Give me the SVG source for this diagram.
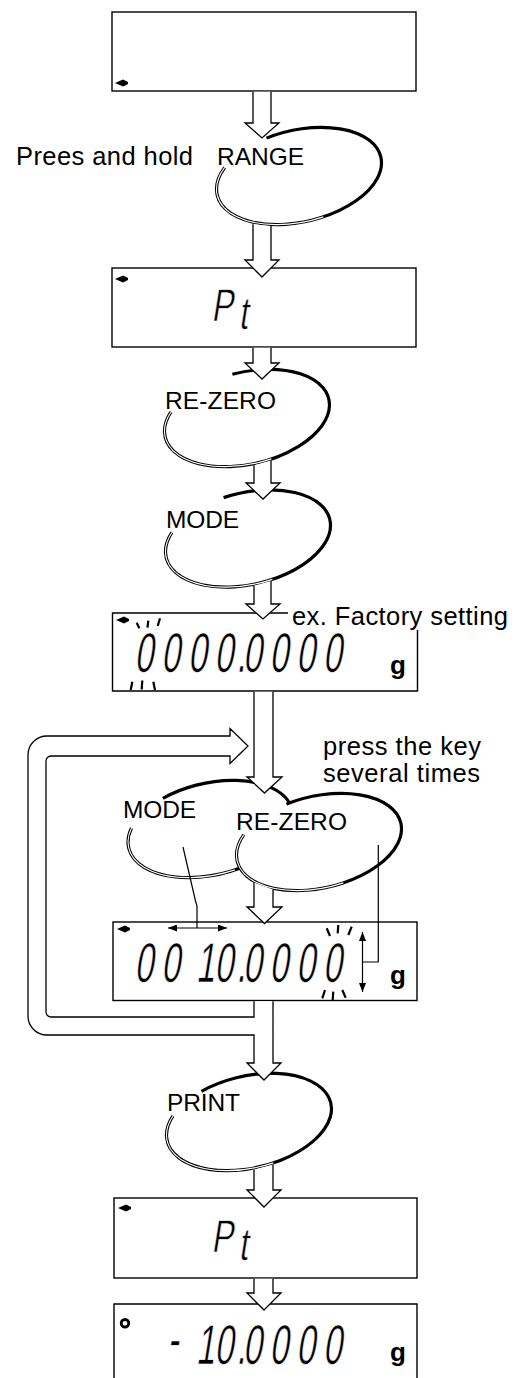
<svg xmlns="http://www.w3.org/2000/svg" width="523" height="1378" viewBox="0 0 523 1378">
<defs>
<style>
.box{fill:none;stroke:#000;stroke-width:1.4}
.arr{fill:#fff;stroke:#000;stroke-width:1.3;stroke-linejoin:miter}
.ek{fill:none;stroke:#000;stroke-width:3.2}
.ew{fill:none;stroke:#fff;stroke-width:1.1}
.ln{fill:none;stroke:#000;stroke-width:1.2}
.lbl{font-family:"Liberation Sans",Arial,sans-serif;font-size:25.5px;fill:#000}
.key{font-family:"Liberation Sans",Arial,sans-serif;font-size:24.5px;fill:#000}
.seg{font-family:"Liberation Sans",Arial,sans-serif;font-size:56px;fill:#000;text-anchor:middle;stroke:#fff;stroke-width:0.6}
.pt{font-family:"Liberation Sans",Arial,sans-serif;font-size:46px;fill:#000;text-anchor:middle;stroke:#fff;stroke-width:0.6}
.unit{font-family:"Liberation Sans",Arial,sans-serif;font-size:26px;font-weight:bold;fill:#000}
.ray{stroke:#000;stroke-width:2.2}
</style>
<path id="ind" d="M0,0 L8,-3.5 L13,-1 L13,1 L8,3.5 Z" fill="#000"/>
<marker id="ah" viewBox="0 0 9 7" refX="9" refY="3.5" markerWidth="9" markerHeight="7" markerUnits="userSpaceOnUse" orient="auto-start-reverse">
<path d="M0,0 L9,3.5 L0,7 Z" fill="#000"/>
</marker>
</defs>
<rect width="523" height="1378" fill="#fff"/>

<g id="display-blank">
<rect class="box" x="112" y="12" width="304" height="79"/>
<use href="#ind" x="115" y="83"/>
</g>

<g id="display-pt-1">
<rect class="box" x="112" y="268" width="304" height="79"/>
<use href="#ind" x="115" y="279"/>
<text class="pt" transform="translate(0,321) skewX(-9) scale(0.7,1)" x="317 349" y="0 8">Pt</text>
</g>

<g id="display-factory">
<path class="box" d="M288,613 H112.5 V691 H417.5 V630"/>
<use href="#ind" x="116" y="620"/>
<text class="seg" transform="translate(0,672) skewX(-9) scale(0.6,1)" x="239.5 283.8 328.3 372.8 401.7 420 464.5 508.8 553.3" y="0">0000.0000</text>
<line class="ray" x1="136.7" y1="622.7" x2="139.3" y2="628.3"/>
<line class="ray" x1="148.3" y1="620.7" x2="147.5" y2="627.7"/>
<line class="ray" x1="160" y1="618.3" x2="157.7" y2="626"/>
<line class="ray" x1="132.3" y1="681.7" x2="130.7" y2="690"/>
<line class="ray" x1="142.3" y1="680.5" x2="141.7" y2="689.5"/>
<line class="ray" x1="153.3" y1="681.7" x2="155" y2="690"/>
<text class="unit" x="390" y="673.5">g</text>
</g>
<g id="note-factory">
<text class="lbl" x="292" y="625" textLength="216" lengthAdjust="spacing">ex. Factory setting</text>
</g>

<g id="display-edit">
<rect class="box" x="113" y="922" width="304" height="78.5"/>
<use href="#ind" x="117" y="929"/>
<text class="seg" transform="translate(0,982) skewX(-9) scale(0.6,1)" x="239.5 283.8 341.7 372.8 401.7 420 464.5 508.8 553.3" y="0">0010.0000</text>
<line class="ray" x1="326.7" y1="928.3" x2="330" y2="936"/>
<line class="ray" x1="338.3" y1="925" x2="337.7" y2="933.3"/>
<line class="ray" x1="351.7" y1="926.7" x2="348.3" y2="935"/>
<line class="ray" x1="325" y1="990" x2="322.3" y2="998.3"/>
<line class="ray" x1="333.3" y1="991.7" x2="332.7" y2="1000"/>
<line class="ray" x1="342.3" y1="990" x2="345.7" y2="997.7"/>
<text class="unit" x="390" y="984">g</text>
</g>

<g id="display-pt-2">
<rect class="box" x="114" y="1198" width="303" height="80"/>
<use href="#ind" x="118" y="1208"/>
<text class="pt" transform="translate(0,1252) skewX(-9) scale(0.7,1)" x="317 349" y="0 8">Pt</text>
</g>

<g id="display-result">
<path class="box" d="M114,1385 V1304 H417 V1385"/>
<circle cx="125" cy="1323.3" r="3.8" fill="none" stroke="#000" stroke-width="2.8"/>
<text class="seg" transform="translate(0,1364) skewX(-9) scale(0.6,1)" x="286.7 341.7 372.8 401.7 420 464.5 508.8 553.3" y="-6 0">-10.0000</text>
<text class="unit" x="390" y="1361">g</text>
</g>

<g id="label-prees">
<text class="lbl" x="16" y="165" textLength="177" lengthAdjust="spacing">Prees and hold</text>
</g>

<g id="key-range">
<path class="ek" d="M266.49,138.12 A84,46 -13 1 1 224.71,167.44"/>
<path class="ew" d="M224.71,167.44 A84,46 -13 0 0 323.4,216.86"/>
<text class="key" x="217" y="165" textLength="87" lengthAdjust="spacing">RANGE</text>
</g>

<g id="key-rezero-1">
<path class="ek" d="M232.38,374.23 A84,46 -13 1 1 170.94,411.96"/>
<path class="ew" d="M170.94,411.96 A84,46 -13 0 0 271.4,458.86"/>
<text class="key" x="165" y="409" textLength="111" lengthAdjust="spacing">RE-ZERO</text>
</g>

<g id="key-mode-1">
<path class="ek" d="M223.6,497.64 A84,46 -13 1 1 171.94,532.46"/>
<path class="ew" d="M171.94,532.46 A84,46 -13 0 0 272.4,579.36"/>
<text class="key" x="166" y="528" textLength="73" lengthAdjust="spacing">MODE</text>
</g>

<g id="note-press">
<text class="lbl" x="323" y="755" textLength="158" lengthAdjust="spacing">press the key</text>
<text class="lbl" x="323" y="782" textLength="157" lengthAdjust="spacing">several times</text>
</g>

<g id="key-mode-2">
<path class="ek" d="M162.93,798.3 A84,46 -13 1 1 131.52,828.04"/>
<path class="ew" d="M131.52,828.04 A84,46 -13 0 0 234.9,869.86"/>
<text class="key" x="123" y="818" textLength="73" lengthAdjust="spacing">MODE</text>
</g>

<g id="key-rezero-2">
<ellipse cx="319" cy="842" rx="84" ry="46" transform="rotate(-13 319 842)" fill="#fff"/>
<path class="ek" d="M286.49,804.12 A84,46 -13 1 1 243.8,834.69"/>
<path class="ew" d="M243.8,834.69 A84,46 -13 0 0 343.4,882.86"/>
<text class="key" x="236" y="830" textLength="111" lengthAdjust="spacing">RE-ZERO</text>
</g>

<g id="key-print">
<path class="ek" d="M201.43,1091.3 A84,46 -13 1 1 172.94,1115.96"/>
<path class="ew" d="M172.94,1115.96 A84,46 -13 0 0 273.4,1162.86"/>
<text class="key" x="167" y="1111" textLength="73" lengthAdjust="spacing">PRINT</text>
</g>

<g id="connectors">
<path class="arr" d="M253,91.7 V123 H245 L262,138 L279,123 H271 V91.7"/>
<path class="arr" d="M253,224.2 V260 H245 L262,277 L279,260 H271 V226"/>
<path class="arr" d="M253,347.7 V363 H245 L262,379 L279,363 H271 V347.7"/>
<path class="arr" d="M254,465.2 V483 H246 L263,499 L280,483 H271 V460.5"/>
<path class="arr" d="M254,585.7 V604 H246 L263,619 L280,604 H271 V581"/>
<path class="arr" d="M254,691.7 V777 H247 L264.5,793 L282,777 H273 V691.7"/>
<path class="arr" d="M254,882.6 V907 H247 L264.5,923.5 L282,907 H273 V889.6"/>
<path class="arr" d="M273,1001.2 V1063 H281 L264,1080 L247,1063 H254 V1035 H47 A19,19 0 0 1 28,1016 V755 A19,19 0 0 1 47,736 H230 V728.5 L248,746 L230,763.5 V756 H51 A5,5 0 0 0 46,761 V1012 A5,5 0 0 0 51,1017 H254 V1001.2"/>
<path class="arr" d="M254,1169.7 V1190 H247 L264,1207 L281,1190 H273 V1164.5"/>
<path class="arr" d="M254,1278.7 V1293 H247 L264,1310 L281,1293 H273 V1278.7"/>
<path class="ln" d="M183,847 L195.5,901 L197,906 V928"/>
<line class="ln" x1="168" y1="928" x2="227" y2="928" marker-start="url(#ah)" marker-end="url(#ah)"/>
<path class="ln" d="M378.3,845 V962 H363"/>
<line class="ln" x1="362.5" y1="932" x2="362.5" y2="992" marker-start="url(#ah)" marker-end="url(#ah)"/>
</g>
</svg>
